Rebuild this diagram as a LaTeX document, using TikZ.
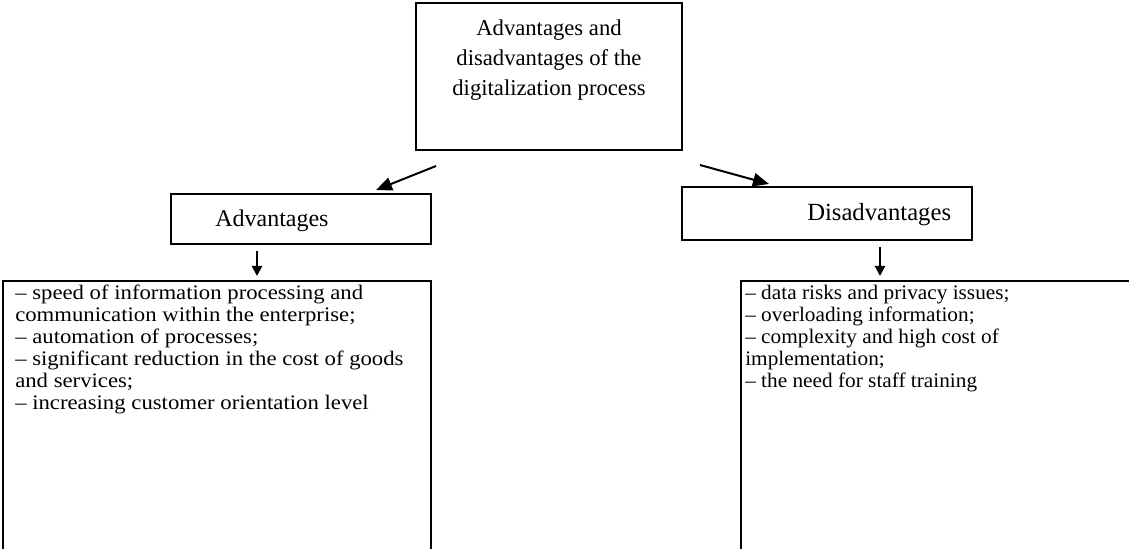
\documentclass[tikz,border=0pt]{standalone}
\usepackage{fontspec}
\setmainfont{Liberation Serif}
\newfontfamily\leftfont[FakeStretch=1.10]{Liberation Serif}
\newfontfamily\rightfont[FakeStretch=1.03]{Liberation Serif}
\usetikzlibrary{arrows.meta,calc}
\begin{document}
\begin{tikzpicture}[x=0.75pt,y=-0.75pt,
  box/.style={draw, line width=1.5pt, inner sep=0pt},
  txt/.style={inner sep=0pt, align=left, anchor=north west},
  head/.style={inner sep=0pt, font=\fontsize{18}{20}\selectfont},
  arr/.style={line width=1.5pt, -{Triangle[length=12pt,width=10pt]}},
  darr/.style={line width=1.5pt, -{Triangle[length=7.5pt,width=7.5pt]}}]
\useasboundingbox (0,0) rectangle (1129,549);
\clip (0,0) rectangle (1129,549);
% boxes
\node[box, minimum width=199.5pt, minimum height=110.25pt] (top) at (549,76.5) {};
\node[box, minimum width=195pt, minimum height=37.5pt] (adv) at (301,219) {};
\node[box, minimum width=217.5pt, minimum height=39.75pt] (dis) at (827,213.5) {};
\node[box, minimum width=321pt, minimum height=253.5pt] (botL) at (217,450) {};
\node[box, minimum width=344.25pt, minimum height=253.5pt] (botR) at (970.5,450) {};
% texts
\node[inner sep=0pt, font=\fontsize{17}{22.5}\selectfont, align=center, anchor=north] (toptxt) at (549,18)
  {\rule{0pt}{12.75pt}Advantages and\\disadvantages of the\\digitalization process};
\node[head, anchor=base west] (advtxt) at (215,227) {Advantages};
\node[head, font=\fontsize{18.5}{20}\selectfont, anchor=base west] (distxt) at (807,221) {Disadvantages};
\node[txt, font=\leftfont\fontsize{15.5}{16.6}\selectfont] (ltxt) at (15,283)
  {\rule{0pt}{12pt}\textendash{} speed of information processing and\\
   communication within the enterprise;\\
   \textendash{} automation of processes;\\
   \textendash{} significant reduction in the cost of goods\\
   and services;\\
   \textendash{} increasing customer orientation level};
\node[txt, font=\rightfont\fontsize{15.5}{16.6}\selectfont] (rtxt) at (745,283)
  {\rule{0pt}{12pt}\textendash{} data risks and privacy issues;\\
   \textendash{} overloading information;\\
   \textendash{} complexity and high cost of\\
   implementation;\\
   \textendash{} the need for staff training};
% connectors
\draw[arr] ($(top.south west)+(21,15)$) -- ($(adv.north east)+(-56,-3)$);
\draw[arr] ($(top.south east)+(17,14)$) -- ($(dis.north west)+(88,-2)$);
\draw[darr] ($(adv.south)+(-44,6)$) -- ($(adv.south |- botL.north)+(-44,-4)$);
\draw[darr] ($(dis.south)+(53,6)$) -- ($(dis.south |- botR.north)+(53,-4)$);
\end{tikzpicture}
\end{document}
